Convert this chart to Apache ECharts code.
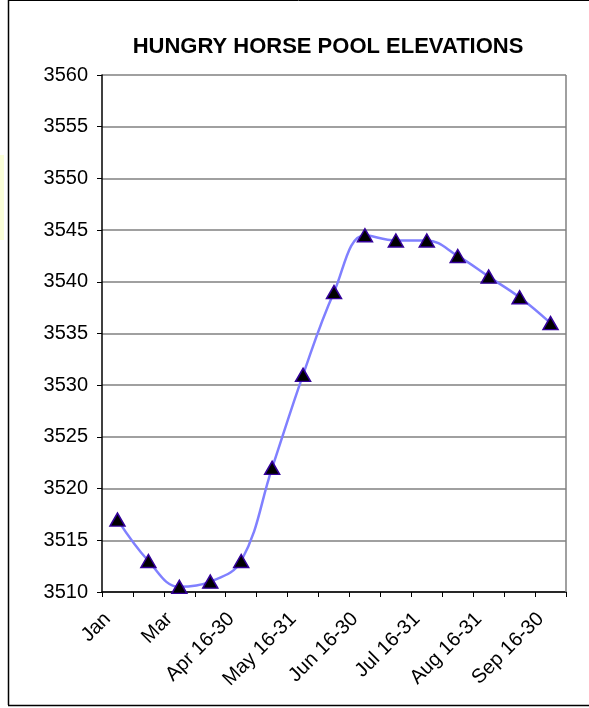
<!DOCTYPE html>
<html>
<head>
<meta charset="utf-8">
<script src="https://cdn.jsdelivr.net/npm/echarts@6/dist/echarts.min.js"></script>
<style>
html,body{margin:0;padding:0;background:#fff;}
#chart{width:589px;height:708px;}
</style>
</head>
<body>
<div id="chart"></div>
<script>
const title = 'HUNGRY HORSE POOL ELEVATIONS';
const categories = ['Jan','Feb','Mar','Apr 1-15','Apr 16-30','May 1-15','May 16-31','Jun 1-15','Jun 16-30','Jul 1-15','Jul 16-31','Aug 1-15','Aug 16-31','Sep 1-15','Sep 16-30'];
const elevations = [3517, 3513, 3510.5, 3511, 3513, 3522, 3531, 3539, 3544.5, 3544, 3544, 3542.5, 3540.5, 3538.5, 3536];
const yMin = 3510, yMax = 3560, yStep = 5;

const FONT = 'Liberation Sans, Arial, sans-serif';
const chart = echarts.init(document.getElementById('chart'), null, {renderer:'canvas'});
chart.setOption({
  backgroundColor:'#fff',
  animation:false,
  textStyle:{fontFamily:FONT},
  title:{
    text:title, left:323, top:31, textAlign:'center',
    textStyle:{fontFamily:FONT, fontSize:22, fontWeight:'bold', color:'#000'}
  },
  graphic:[
    {type:'rect', shape:{x:0,y:155,width:4,height:85}, style:{fill:'#fbffd8'}, silent:true},
    {type:'line', shape:{x1:8.5,y1:0,x2:8.5,y2:705}, style:{stroke:'#000',lineWidth:1.5}, silent:true},
    {type:'line', shape:{x1:8,y1:705.5,x2:589,y2:705.5}, style:{stroke:'#000',lineWidth:1.5}, silent:true},
    {type:'line', shape:{x1:8,y1:0.5,x2:589,y2:0.5}, style:{stroke:'#000',lineWidth:1}, silent:true},
    {type:'line', shape:{x1:566,y1:75,x2:566,y2:592}, style:{stroke:'#808080',lineWidth:1.5}, silent:true, z:1}
  ],
  grid:{left:102, right:23, top:75, bottom:116},
  xAxis:{
    type:'category', data:categories, boundaryGap:true,
    axisLine:{lineStyle:{color:'#000',width:1.5}},
    axisTick:{show:true, interval:0, alignWithLabel:false, length:5, lineStyle:{color:'#000'}},
    axisLabel:{interval:1, rotate:45, fontSize:20, color:'#000', margin:14, padding:[0,14,0,0], fontFamily:FONT},
    splitLine:{show:false}
  },
  yAxis:{
    type:'value', min:yMin, max:yMax, interval:yStep,
    axisLine:{show:true, lineStyle:{color:'#000',width:1.5}},
    axisTick:{show:true, length:5, inside:false, lineStyle:{color:'#000'}},
    axisLabel:{fontSize:20, color:'#000', margin:14, fontFamily:FONT, formatter:(v)=>String(v)},
    splitLine:{show:true, lineStyle:{color:'#808080', width:1.5}}
  },
  series:[{
    type:'line', data:elevations, smooth:0.4,
    lineStyle:{color:'#8080ff', width:2.5},
    symbol:'triangle', symbolSize:[15,13],
    itemStyle:{color:'#000', borderColor:'#330099', borderWidth:1.5},
    z:5
  }]
});
</script>
</body>
</html>
